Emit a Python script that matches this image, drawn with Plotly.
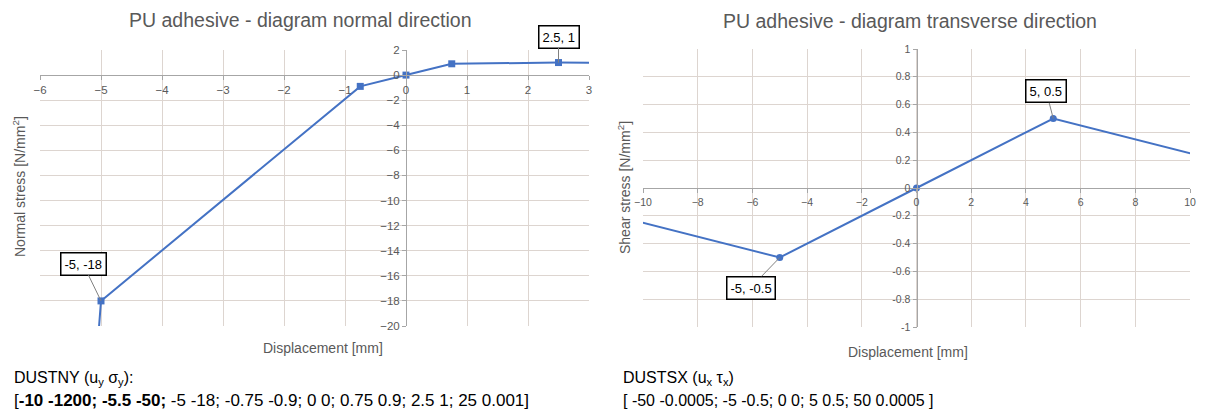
import plotly.graph_objects as go

# Normal direction (DUSTNY): displacement u_y [mm], stress sigma_y [N/mm2]
normal_u = [-10, -5.5, -5, -0.75, 0, 0.75, 2.5, 25]
normal_s = [-1200, -50, -18, -0.9, 0, 0.9, 1, 0.001]

# Transverse direction as plotted: displacement u_x [mm], shear stress tau_x [N/mm2]
shear_u = [-15, -5, 0, 5, 15]
shear_t = [0, -0.5, 0, 0.5, 0]

# Axis ticks
normal_xticks = [-6, -5, -4, -3, -2, -1, 0, 1, 2, 3]
normal_yticks = list(range(2, -21, -2))
shear_xticks = list(range(-10, 11, 2))
shear_yticks = [1, 0.8, 0.6, 0.4, 0.2, 0, -0.2, -0.4, -0.6, -0.8, -1]
shear_ytext = ["1", "0.8", "0.6", "0.4", "0.2", "0", "-0.2", "-0.4", "-0.6", "-0.8", "-1"]

# Labelled points
normal_labels = [(-5, -18, "-5, -18", -18, -37), (2.5, 1, "2.5, 1", 0, -26)]
shear_labels = [(5, 0.5, "5, 0.5", -7, -27), (-5, -0.5, "-5, -0.5", -29, 30)]

W, H = 1208, 414
BLUE = "#4472C4"
GRID = "#ddd5d0"
AXIS = "#a6a6a6"
TXT = "#595959"
FONT = "Liberation Sans, Arial, sans-serif"

# panel geometry in paper fractions
L_dom_x = [40 / W, 589 / W]
L_dom_y = [(H - 326) / H, (H - 50) / H]
R_dom_x = [643 / W, 1190 / W]
R_dom_y = [(H - 327) / H, (H - 49) / H]

L_xr, L_yr = [-6, 3], [-20, 2]
R_xr, R_yr = [-10, 10], [-1, 1]


def frac(dom, rng, v):
    return dom[0] + (v - rng[0]) / (rng[1] - rng[0]) * (dom[1] - dom[0])


fig = go.Figure()

fig.add_trace(go.Scatter(
    x=normal_u, y=normal_s, mode="lines+markers", xaxis="x", yaxis="y",
    line=dict(color=BLUE, width=2),
    marker=dict(symbol="square", size=7, color=BLUE),
    showlegend=False, hoverinfo="x+y"))

fig.add_trace(go.Scatter(
    x=shear_u, y=shear_t, mode="lines+markers", xaxis="x2", yaxis="y2",
    line=dict(color=BLUE, width=2),
    marker=dict(symbol="circle", size=7, color=BLUE),
    showlegend=False, hoverinfo="x+y"))


def axis_style(size):
    return dict(showgrid=True, gridcolor=GRID, gridwidth=1, zeroline=False,
                showline=True, linecolor=AXIS, linewidth=1,
                ticks="outside", ticklen=4, tickcolor=AXIS,
                tickfont=dict(family=FONT, size=size, color=TXT),
                anchor="free", fixedrange=True, automargin=False)


fig.update_layout(
    width=W, height=H,
    margin=dict(l=0, r=0, t=0, b=0, autoexpand=False),
    paper_bgcolor="white", plot_bgcolor="white",
    xaxis=dict(domain=L_dom_x, range=L_xr, tickmode="array", tickvals=normal_xticks,
               position=frac(L_dom_y, L_yr, 0), **axis_style(11.5)),
    yaxis=dict(domain=L_dom_y, range=L_yr, tickmode="array", tickvals=normal_yticks,
               position=frac(L_dom_x, L_xr, 0), **axis_style(11.5)),
    xaxis2=dict(domain=R_dom_x, range=R_xr, tickmode="array", tickvals=shear_xticks,
                position=frac(R_dom_y, R_yr, 0), **axis_style(10.5)),
    yaxis2=dict(domain=R_dom_y, range=R_yr, tickmode="array", tickvals=shear_yticks,
                ticktext=shear_ytext, position=frac(R_dom_x, R_xr, 0), **axis_style(10.5)),
)

ann = []
# point labels
for (x, y, t, ax, ay), (xr, yr) in [(p, ("x", "y")) for p in normal_labels] + \
        [(p, ("x2", "y2")) for p in shear_labels]:
    ann.append(dict(x=x, y=y, xref=xr, yref=yr, text=t, showarrow=True,
                    arrowhead=0, arrowwidth=1, arrowcolor="#808080",
                    ax=ax, ay=ay, standoff=0,
                    bordercolor="black", borderwidth=1.5, borderpad=3,
                    bgcolor="white", font=dict(family=FONT, size=13, color="black")))

# chart titles
ann.append(dict(x=300 / W, y=(H - 20) / H, xref="paper", yref="paper",
                text="PU adhesive - diagram normal direction", showarrow=False,
                font=dict(family=FONT, size=19.5, color=TXT), xanchor="center", yanchor="middle"))
ann.append(dict(x=910 / W, y=(H - 21) / H, xref="paper", yref="paper",
                text="PU adhesive - diagram transverse direction", showarrow=False,
                font=dict(family=FONT, size=19.5, color=TXT), xanchor="center", yanchor="middle"))

# axis titles
axfont = dict(family=FONT, size=14, color=TXT)
ann.append(dict(x=323 / W, y=(H - 348) / H, xref="paper", yref="paper",
                text="Displacement [mm]", showarrow=False, font=axfont,
                xanchor="center", yanchor="middle"))
ann.append(dict(x=908 / W, y=(H - 352) / H, xref="paper", yref="paper",
                text="Displacement [mm]", showarrow=False, font=axfont,
                xanchor="center", yanchor="middle"))
ann.append(dict(x=19 / W, y=(H - 187) / H, xref="paper", yref="paper",
                text="Normal stress [N/mm<sup>2</sup>]", textangle=-90, showarrow=False,
                font=axfont, xanchor="center", yanchor="middle"))
ann.append(dict(x=624 / W, y=(H - 188) / H, xref="paper", yref="paper",
                text="Shear stress [N/mm<sup>2</sup>]", textangle=-90, showarrow=False,
                font=axfont, xanchor="center", yanchor="middle"))

# material definitions below the charts
hfont = dict(family=FONT, size=16, color="black")
dfont_l = dict(family=FONT, size=17, color="black")
dfont_r = dict(family=FONT, size=16, color="black")
ann.append(dict(x=12 / W, y=(H - 378) / H, xref="paper", yref="paper", xanchor="left",
                yanchor="middle", showarrow=False, font=hfont,
                text="DUSTNY (u<sub>y</sub> σ<sub>y</sub>):"))
ann.append(dict(x=12 / W, y=(H - 400) / H, xref="paper", yref="paper", xanchor="left",
                yanchor="middle", showarrow=False, font=dfont_l,
                text="[<b>-10 -1200; -5.5 -50;</b> -5 -18; -0.75 -0.9; 0 0; 0.75 0.9; 2.5 1; 25 0.001]"))
ann.append(dict(x=621 / W, y=(H - 378) / H, xref="paper", yref="paper", xanchor="left",
                yanchor="middle", showarrow=False, font=hfont,
                text="DUSTSX (u<sub>x</sub> τ<sub>x</sub>)"))
ann.append(dict(x=621 / W, y=(H - 400) / H, xref="paper", yref="paper", xanchor="left",
                yanchor="middle", showarrow=False, font=dfont_r,
                text="[ -50 -0.0005; -5 -0.5; 0 0; 5 0.5; 50 0.0005 ]"))

fig.update_layout(annotations=ann)

fig.write_html("out.html")
